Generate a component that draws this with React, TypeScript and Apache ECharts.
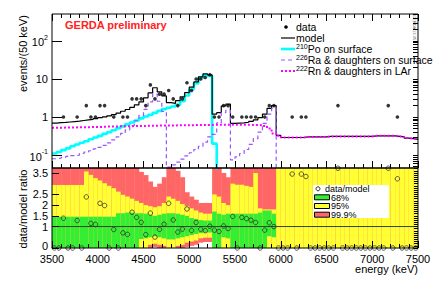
import React, { useEffect, useRef } from 'react';
import * as echarts from 'echarts';

// 50 keV bins from 3500 keV
const E0 = 3500;
const BW = 50;
const R_MAX = 3.73;
const LOG_MIN = -1.34;
const LOG_MAX = 2.71;

const dataCounts = [
  0, 0, 1, 0, 0, 1, 0, 2, 1, 1,
  2, 2, 0, 1, 0, 1, 1, 3, 3, 3,
  2, 7, 3, 4, 4, 5, 3, 2, 3, 8,
  5, 10, 10, 11, 13, 1, 1, 2, 2, 1,
  0, 1, 1, 1, 1, 0, 1, 2, 2, 0,
  0, 0, 1, 0, 1, 1, 0, 0, 0, 0,
  0, 0, 2, 0, 0, 0, 0, 0, 0, 0,
  0, 0, 0, 2, 0, 1, 0, 0, 0, 0,
];

const modelVals = [
  0.69, 0.71, 0.72, 0.74, 0.76, 0.78, 0.81, 0.84, 0.87, 0.91,
  0.96, 1.01, 1.08, 1.16, 1.27, 1.42, 1.58, 1.8, 2.1, 2.5,
  3.2, 4.3, 5.9, 4.6, 3.6, 2.4, 2.3, 2.7, 3.4, 4.4,
  6.1, 8.4, 11.4, 13.6, 12.8, 1.2, 1.3, 1.95, 2.2, 0.68,
  0.69, 0.7, 0.73, 0.77, 0.84, 0.97, 1.2, 1.7, 2.0, 0.33,
  0.29, 0.29, 0.29, 0.29, 0.29, 0.3, 0.3, 0.3, 0.3, 0.3,
  0.31, 0.31, 0.31, 0.31, 0.31, 0.31, 0.31, 0.31, 0.31, 0.31,
  0.32, 0.32, 0.32, 0.32, 0.32, 0.31, 0.3, 0.28, 0.27, 0.26,
];

const poVals = [
  0.11, 0.12, 0.135, 0.15, 0.17, 0.19, 0.21, 0.23, 0.26, 0.29,
  0.32, 0.36, 0.4, 0.45, 0.51, 0.57, 0.64, 0.72, 0.81, 0.92,
  1.03, 1.15, 1.29, 1.45, 1.62, 1.75, 1.9, 2.1, 2.6, 3.7,
  5.4, 7.7, 10.7, 12.8, 12.0, 0.2,
];

const raVals = [
  0.08, 0.083, 0.087, 0.092, 0.097, 0.1, 0.11, 0.12, 0.13, 0.145,
  0.16, 0.18, 0.21, 0.25, 0.3, 0.37, 0.46, 0.6, 0.8, 1.1,
  1.6, 2.5, 4.0, 2.6, 1.4, 0.048, 0.055, 0.065, 0.078, 0.095,
  0.115, 0.14, 0.17, 0.22, 0.3, 0.35, 0.7, 1.3, 1.5, 0.075,
  0.09, 0.11, 0.14, 0.19, 0.27, 0.4, 0.68, 1.2, 1.7,
];

const rnVals = [
  0.52, 0.52, 0.53, 0.53, 0.53, 0.54, 0.54, 0.54, 0.55, 0.55,
  0.55, 0.56, 0.56, 0.56, 0.57, 0.57, 0.57, 0.58, 0.58, 0.58,
  0.59, 0.59, 0.59, 0.6, 0.6, 0.6, 0.6, 0.61, 0.61, 0.61,
  0.61, 0.62, 0.62, 0.62, 0.62, 0.63, 0.63, 0.63, 0.63, 0.63,
  0.63, 0.63, 0.63, 0.62, 0.62, 0.61, 0.58, 0.5, 0.37, 0.32,
  0.29, 0.29, 0.29, 0.29, 0.29, 0.3, 0.3, 0.3, 0.3, 0.3,
  0.31, 0.31, 0.31, 0.31, 0.31, 0.31, 0.31, 0.31, 0.31, 0.31,
  0.32, 0.32, 0.32, 0.32, 0.32, 0.31, 0.3, 0.28, 0.27, 0.26,
];

// probability bands on data/model: [lo, hi] per bin
const greenLo = [
  0, 0, 0, 0, 0, 0, 0, 0, 0, 0,
  0, 0, 0, 0, 0, 0, 0, 0, 0, 0.42,
  0.45, 0.5, 0.55, 0.5, 0.45, 0.4, 0.4, 0.45, 0.5, 0.55,
  0.6, 0.65, 0.7, 0.72, 0.72, 0, 0, 0.5, 0.45, 0,
  0, 0, 0, 0, 0, 0, 0, 0.55, 0.5, 0,
  0, 0, 0, 0, 0, 0, 0, 0, 0, 0,
  0, 0, 0, 0, 0, 0, 0, 0, 0, 0,
  0, 0, 0, 0, 0, 0, 0, 0, 0, 0,
];
const greenHi = [
  1.46, 1.46, 1.46, 1.46, 1.46, 1.46, 1.46, 1.46, 1.46, 1.46,
  1.46, 1.46, 1.46, 1.46, 1.62, 1.62, 1.65, 1.65, 1.62, 1.62,
  1.6, 1.55, 1.5, 1.55, 1.6, 1.62, 1.62, 1.6, 1.55, 1.5,
  1.4, 1.35, 1.3, 1.28, 1.28, 1.7, 1.6, 1.55, 1.6, 1.6,
  1.6, 1.6, 1.6, 1.6, 1.6, 1.65, 1.75, 1.75, 1.6, 0,
  0, 0, 0, 0, 0, 0, 0, 0, 0, 0,
  0, 0, 0, 0, 0, 0, 0, 0, 0, 0,
  0, 0, 0, 0, 0, 0, 0, 0, 0, 0,
];
const yellowLo = [
  0, 0, 0, 0, 0, 0, 0, 0, 0, 0,
  0, 0, 0, 0, 0, 0, 0, 0, 0, 0,
  0, 0.15, 0.2, 0.15, 0.1, 0, 0, 0.1, 0.15, 0.25,
  0.3, 0.35, 0.45, 0.48, 0.48, 0, 0, 0, 0, 0,
  0, 0, 0, 0, 0, 0, 0, 0, 0, 0,
  0, 0, 0, 0, 0, 0, 0, 0, 0, 0,
  0, 0, 0, 0, 0, 0, 0, 0, 0, 0,
  0, 0, 0, 0, 0, 0, 0, 0, 0, 0,
];
const yellowHi = [
  2.94, 2.94, 2.94, 2.94, 2.94, 2.94, 2.94, 3.57, 3.41, 3.26,
  3.15, 3.02, 2.9, 2.79, 2.63, 2.48, 2.4, 2.3, 2.2, 2.1,
  2.0, 1.95, 1.9, 1.95, 2.1, 2.4, 2.3, 2.2, 2.05, 1.95,
  1.85, 1.75, 1.65, 1.6, 1.6, 2.5, 2.4, 2.1, 2.0, 3.0,
  2.95, 2.95, 2.9, 2.85, 3.5, 1.85, 1.8, 1.8, 1.8, 3.73,
  3.73, 3.73, 3.73, 3.73, 3.73, 3.73, 3.73, 3.73, 3.73, 3.73,
  3.73, 3.73, 3.73, 3.73, 3.73, 3.73, 3.73, 3.73, 3.73, 3.73,
  3.73, 3.73, 3.73, 3.73, 3.73, 3.73, 3.73, 3.73, 3.73, 3.73,
];
const redLo = [
  0, 0, 0, 0, 0, 0, 0, 0, 0, 0,
  0, 0, 0, 0, 0, 0, 0, 0, 0, 0,
  0, 0, 0.05, 0, 0, 0, 0, 0, 0, 0.05,
  0.1, 0.15, 0.25, 0.28, 0.28, 0, 0, 0, 0, 0,
  0, 0, 0, 0, 0, 0, 0, 0, 0, 0,
  0, 0, 0, 0, 0, 0, 0, 0, 0, 0,
  0, 0, 0, 0, 0, 0, 0, 0, 0, 0,
  0, 0, 0, 0, 0, 0, 0, 0, 0, 0,
];
const redHi = [
  3.73, 3.73, 3.73, 3.73, 3.73, 3.73, 3.73, 3.73, 3.73, 3.73,
  3.73, 3.73, 3.73, 3.73, 3.73, 3.73, 3.73, 3.73, 3.73, 3.55,
  3.4, 3.1, 2.85, 3.0, 3.3, 3.73, 3.73, 3.6, 3.3, 2.6,
  2.4, 2.25, 2.1, 2.1, 2.1, 3.73, 3.73, 3.5, 3.3, 3.73,
  3.73, 3.73, 3.73, 3.73, 3.73, 3.73, 3.73, 3.73, 3.73, 3.73,
  3.73, 3.73, 3.73, 3.73, 3.73, 3.73, 3.73, 3.73, 3.73, 3.73,
  3.73, 3.73, 3.73, 3.73, 3.73, 3.73, 3.73, 3.73, 3.73, 3.73,
  3.73, 3.73, 3.73, 3.73, 3.73, 3.73, 3.73, 3.73, 3.73, 3.73,
];

const xLabelValues = [3500, 4000, 4500, 5000, 5500, 6000, 6500, 7000, 7500];
const logLabelValues = [-1, 0, 1, 2];
const ratioLabelValues = [0, 0.5, 1, 1.5, 2, 2.5, 3, 3.5];

const FONT = '"Liberation Sans", Arial, Helvetica, sans-serif';

function stepPoints(vals: number[], dropAtEnd: boolean): number[][] {
  const pts: number[][] = [];
  vals.forEach((v, i) => {
    const y = Math.log10(v);
    pts.push([E0 + i * BW, y], [E0 + (i + 1) * BW, y]);
  });
  if (dropAtEnd) pts.push([E0 + vals.length * BW, -4]);
  return pts;
}

function minorLogTicks(): number[] {
  const out: number[] = [];
  for (let d = -2; d <= 2; d++) {
    for (let k = 1; k <= 9; k++) {
      const v = Math.log10(k * Math.pow(10, d));
      if (v >= LOG_MIN && v <= LOG_MAX) out.push(v);
    }
  }
  return out;
}

function minorRatioTicks(): number[] {
  const out: number[] = [];
  for (let i = 0; i <= 37; i++) out.push(i / 10);
  return out;
}

export default function App() {
  const ref = useRef<HTMLDivElement>(null);

  useEffect(() => {
    if (!ref.current) return;
    const chart = echarts.init(ref.current, undefined, { renderer: 'svg' });

    const binCenters = dataCounts.map((_, i) => E0 + i * BW + BW / 2);
    const dataPts = dataCounts
      .map((c, i) => (c > 0 ? [binCenters[i], Math.log10(c)] : null))
      .filter((p) => p !== null);
    const ratioPts = dataCounts.map((c, i) => [binCenters[i], Math.min(c / modelVals[i], R_MAX - 0.01)]);
    const bandData = dataCounts.map((_, i) => [
      E0 + i * BW, E0 + (i + 1) * BW,
      redLo[i], redHi[i], yellowLo[i], yellowHi[i], greenLo[i], greenHi[i],
    ]);

    const axisCommonX = {
      type: 'value', min: 3500, max: 7500, interval: 500, z: 6,
      axisLine: { show: false, onZero: false },
      splitLine: { show: false },
      axisTick: { show: true, inside: true, length: 7, lineStyle: { color: '#000', width: 1 } },
      minorTick: { show: true, splitNumber: 5, length: 4, lineStyle: { color: '#000', width: 1 } },
    };

    const logFormatter = (v: number) => {
      const r = Math.round(v);
      if (r === 0) return '1';
      if (r === 1) return '10';
      return '{b|10}{s|' + r + '}';
    };

    const option: any = {
      animation: false,
      textStyle: { fontFamily: FONT },
      grid: [
        { left: 52, right: 22, top: 14, height: 154, show: true, z: 6, borderColor: '#000', borderWidth: 1, backgroundColor: 'transparent' },
        { left: 52, right: 22, top: 168, height: 80, show: true, z: 6, borderColor: '#000', borderWidth: 1, backgroundColor: 'transparent' },
      ],
      xAxis: [
        { ...axisCommonX, gridIndex: 0, position: 'bottom', axisLabel: { show: false } },
        { ...axisCommonX, gridIndex: 0, position: 'top', axisLabel: { show: false } },
        {
          ...axisCommonX, gridIndex: 1, position: 'bottom',
          axisLabel: {
            show: true, color: '#000', fontSize: 11, fontFamily: FONT, margin: 5,
            showMinLabel: true, showMaxLabel: true,
            customValues: xLabelValues, formatter: (v: number) => String(Math.round(v)),
          },
        },
      ],
      yAxis: [
        {
          type: 'value', gridIndex: 0, min: LOG_MIN, max: LOG_MAX, z: 6,
          axisLine: { show: false, onZero: false }, splitLine: { show: false },
          axisTick: { show: true, inside: true, length: 10, customValues: logLabelValues, lineStyle: { color: '#000' } },
          axisLabel: {
            show: true, customValues: logLabelValues, formatter: logFormatter, margin: 4,
            color: '#000', fontSize: 11, fontFamily: FONT,
            rich: {
              b: { fontSize: 11, fontFamily: FONT, color: '#000', lineHeight: 14, verticalAlign: 'bottom' },
              s: { fontSize: 7, fontFamily: FONT, color: '#000', lineHeight: 14, verticalAlign: 'top' },
            },
          },
        },
        {
          type: 'value', gridIndex: 0, min: LOG_MIN, max: LOG_MAX, z: 6,
          axisLine: { show: false, onZero: false }, splitLine: { show: false }, axisLabel: { show: false },
          axisTick: { show: true, inside: true, length: 5, customValues: minorLogTicks(), lineStyle: { color: '#000' } },
        },
        {
          type: 'value', gridIndex: 1, min: 0, max: R_MAX, z: 6,
          axisLine: { show: false, onZero: false }, splitLine: { show: false },
          axisTick: { show: true, inside: true, length: 7, customValues: ratioLabelValues, lineStyle: { color: '#000' } },
          axisLabel: {
            show: true, customValues: ratioLabelValues, margin: 4, color: '#000', fontSize: 11, fontFamily: FONT,
            showMinLabel: true, showMaxLabel: true, hideOverlap: false,
            formatter: (v: number) => (v === 0 ? '{z|0}' : String(v)),
            rich: { z: { fontSize: 11, fontFamily: FONT, color: '#000', padding: [0, 0, 4, 0], lineHeight: 11 } },
          },
        },
        {
          type: 'value', gridIndex: 1, min: 0, max: R_MAX, z: 6,
          axisLine: { show: false, onZero: false }, splitLine: { show: false }, axisLabel: { show: false },
          axisTick: { show: true, inside: true, length: 4, customValues: minorRatioTicks(), lineStyle: { color: '#000' } },
        },
      ],
      series: [
        {
          type: 'custom', name: 'bands', xAxisIndex: 2, yAxisIndex: 2, clip: true, silent: true,
          data: bandData,
          encode: { x: [0, 1], y: [2, 3, 4, 5, 6, 7] },
          renderItem: (_params: any, api: any) => {
            const x0 = api.value(0);
            const x1 = api.value(1);
            const mk = (lo: number, hi: number, color: string) => {
              const p0 = api.coord([x0, hi]);
              const p1 = api.coord([x1, lo]);
              return {
                type: 'rect',
                shape: { x: p0[0], y: p0[1], width: p1[0] - p0[0] + 0.4, height: Math.max(0, p1[1] - p0[1]) },
                style: { fill: color },
              };
            };
            return {
              type: 'group',
              children: [
                mk(api.value(2), api.value(3), '#ff6666'),
                mk(api.value(4), api.value(5), '#ffff33'),
                mk(api.value(6), api.value(7), '#33ee33'),
              ],
            };
          },
          z: 1,
        },
        {
          type: 'line', name: 'unity', xAxisIndex: 2, yAxisIndex: 2,
          data: [[3500, 1], [7500, 1]], symbol: 'none',
          lineStyle: { color: '#2b4a2b', width: 1 }, z: 3,
        },
        {
          type: 'scatter', name: 'data/model', xAxisIndex: 2, yAxisIndex: 2,
          data: ratioPts, symbol: 'circle', symbolSize: 4.5, clip: false,
          itemStyle: { color: 'rgba(0,0,0,0)', borderColor: '#303030', borderWidth: 1 }, z: 4,
        },
        {
          type: 'line', name: '210Po on surface', xAxisIndex: 0, yAxisIndex: 0,
          data: stepPoints(poVals, true), symbol: 'none', clip: true,
          lineStyle: { color: '#00ffff', width: 2.6 }, z: 2,
        },
        {
          type: 'line', name: 'model', xAxisIndex: 0, yAxisIndex: 0,
          data: stepPoints(modelVals, false), symbol: 'none', clip: true,
          lineStyle: { color: '#000', width: 1.2 }, z: 3,
        },
        {
          type: 'line', name: '226Ra', xAxisIndex: 0, yAxisIndex: 0,
          data: stepPoints(raVals, true), symbol: 'none', clip: true,
          lineStyle: { color: '#9955ff', width: 1.2, type: [4, 3] }, z: 4,
        },
        {
          type: 'line', name: '222Rn', xAxisIndex: 0, yAxisIndex: 0,
          data: stepPoints(rnVals, false), symbol: 'none', clip: true,
          lineStyle: { color: '#ff00ff', width: 2, type: [2, 2] }, z: 4,
        },
        {
          type: 'scatter', name: 'data', xAxisIndex: 0, yAxisIndex: 0,
          data: dataPts, symbol: 'circle', symbolSize: 3.6,
          itemStyle: { color: '#000' }, z: 5,
        },
      ],
      graphic: [
        { type: 'text', x: 65, y: 25, style: { text: 'GERDA preliminary', font: 'bold 11px ' + FONT, fill: '#ff2222', verticalAlign: 'middle' } },
        { type: 'text', x: 23, y: 15, rotation: Math.PI / 2, style: { text: 'events/(50 keV)', font: '11px ' + FONT, fill: '#000', align: 'right', verticalAlign: 'middle' } },
        { type: 'text', x: 23, y: 209, rotation: Math.PI / 2, style: { text: 'data/model ratio', font: '11px ' + FONT, fill: '#000', align: 'center', verticalAlign: 'middle' } },
        { type: 'text', x: 418, y: 269, style: { text: 'energy (keV)', font: '11px ' + FONT, fill: '#000', align: 'right', verticalAlign: 'middle' } },
        { type: 'text', x: 414, y: 15, rotation: -Math.PI / 2, style: { text: 'GERDA 13-05', font: '4px ' + FONT, fill: '#666', align: 'left', verticalAlign: 'middle' } },
        // top legend
        { type: 'circle', shape: { cx: 286, cy: 27, r: 1.8 }, style: { fill: '#000' } },
        { type: 'text', x: 296, y: 27, style: { text: 'data', font: '10.5px ' + FONT, fill: '#000', verticalAlign: 'middle' } },
        { type: 'line', shape: { x1: 281, y1: 38, x2: 295, y2: 38 }, style: { stroke: '#000', lineWidth: 1.2 } },
        { type: 'text', x: 296, y: 38, style: { text: 'model', font: '10.5px ' + FONT, fill: '#000', verticalAlign: 'middle' } },
        { type: 'line', shape: { x1: 281, y1: 49, x2: 295, y2: 49 }, style: { stroke: '#00ffff', lineWidth: 2.6 } },
        {
          type: 'text', x: 296, y: 49,
          style: {
            text: '{s|210}Po on surface', font: '10.5px ' + FONT, fill: '#000', verticalAlign: 'middle',
            rich: { s: { fontSize: 7, fontFamily: FONT, verticalAlign: 'top', lineHeight: 12 } },
          },
        },
        { type: 'line', shape: { x1: 281, y1: 60, x2: 295, y2: 60 }, style: { stroke: '#9955ff', lineWidth: 1.2, lineDash: [4, 3] } },
        {
          type: 'text', x: 296, y: 60,
          style: {
            text: '{s|226}Ra & daughters on surface', font: '10.5px ' + FONT, fill: '#000', verticalAlign: 'middle',
            rich: { s: { fontSize: 7, fontFamily: FONT, verticalAlign: 'top', lineHeight: 12 } },
          },
        },
        { type: 'line', shape: { x1: 281, y1: 71, x2: 295, y2: 71 }, style: { stroke: '#ff00ff', lineWidth: 2, lineDash: [2, 2] } },
        {
          type: 'text', x: 296, y: 71,
          style: {
            text: '{s|222}Rn & daughters in LAr', font: '10.5px ' + FONT, fill: '#000', verticalAlign: 'middle',
            rich: { s: { fontSize: 7, fontFamily: FONT, verticalAlign: 'top', lineHeight: 12 } },
          },
        },
        // bottom legend
        { type: 'rect', shape: { x: 313, y: 185, width: 76, height: 33 }, style: { fill: '#fff' }, z: 10 },
        { type: 'circle', shape: { cx: 318, cy: 188.8, r: 2 }, style: { fill: 'none', stroke: '#303030', lineWidth: 1 }, z: 11 },
        { type: 'text', x: 325, y: 188.8, style: { text: 'data/model', font: '9px ' + FONT, fill: '#000', verticalAlign: 'middle' }, z: 11 },
        { type: 'rect', shape: { x: 314.5, y: 194.8, width: 15, height: 5 }, style: { fill: '#33ee33', stroke: '#000', lineWidth: 1 }, z: 11 },
        { type: 'text', x: 331, y: 197.6, style: { text: '68%', font: '9px ' + FONT, fill: '#000', verticalAlign: 'middle' }, z: 11 },
        { type: 'rect', shape: { x: 314.5, y: 203.5, width: 15, height: 5 }, style: { fill: '#ffff33', stroke: '#000', lineWidth: 1 }, z: 11 },
        { type: 'text', x: 331, y: 206.3, style: { text: '95%', font: '9px ' + FONT, fill: '#000', verticalAlign: 'middle' }, z: 11 },
        { type: 'rect', shape: { x: 314.5, y: 212.2, width: 15, height: 5 }, style: { fill: '#ff6666', stroke: '#000', lineWidth: 1 }, z: 11 },
        { type: 'text', x: 331, y: 215, style: { text: '99.9%', font: '9px ' + FONT, fill: '#000', verticalAlign: 'middle' }, z: 11 },
      ],
    };

    chart.setOption(option);
    return () => chart.dispose();
  }, []);

  return <div ref={ref} style={{ position: 'absolute', left: 0, top: 0, width: 440, height: 281, background: '#fff' }} />;
}
